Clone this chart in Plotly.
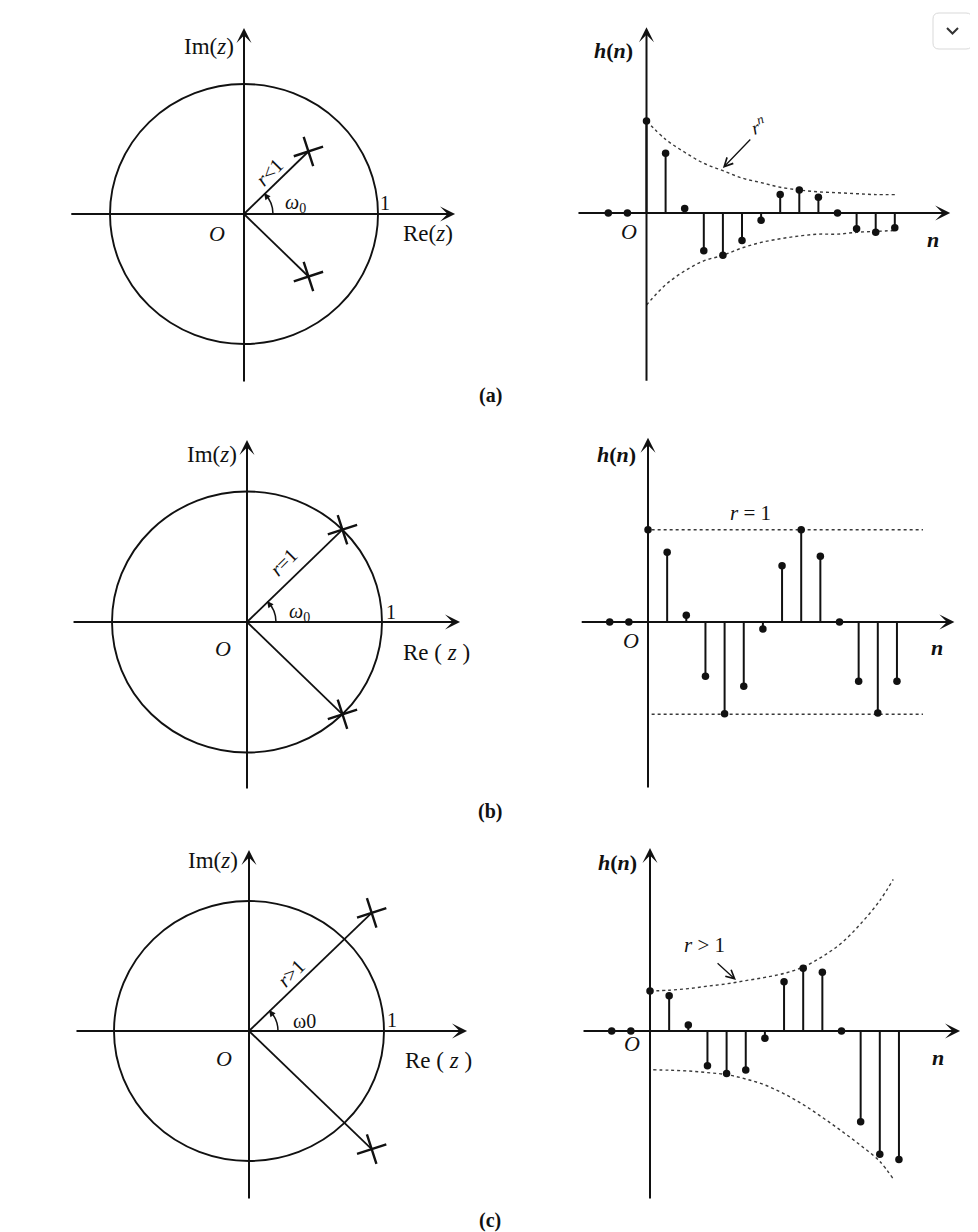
import math
import plotly.graph_objects as go

W, H = 978, 1232          # reference picture size
OFF = 8                   # page body margin of the written html
WF, HF = W - OFF, H - OFF # figure size so that figure pixels line up with the picture
FONT = "Liberation Serif, Times New Roman, serif"
INK = "#111111"

# ---------------- data ----------------
n_vals = [-2, -1, 0, 1, 2, 3, 4, 5, 6, 7, 8, 9, 10, 11, 12, 13]
h_a = [0, 0, 1.0, 0.65, 0.05, -0.41, -0.46, -0.30, -0.08, 0.20, 0.25, 0.17, 0.0, -0.17, -0.21, -0.16]
h_b = [0, 0, 1.0, 0.755, 0.073, -0.588, -0.993, -0.697, -0.076, 0.61, 1.0, 0.712, 0.0, -0.643, -0.986, -0.643]
h_c = [0, 0, 1.0, 0.88, 0.15, -0.87, -1.06, -0.975, -0.18, 1.23, 1.57, 1.47, 0.0, -2.27, -3.08, -3.21]

env_a_n = [0, 1, 2, 3, 4, 5, 6, 7, 8, 9, 10, 11, 12, 13]
env_a_up = [1.0, 0.80, 0.66, 0.54, 0.46, 0.38, 0.33, 0.28, 0.25, 0.23, 0.22, 0.21, 0.20, 0.20]
env_a_lo = [-1.0, -0.78, -0.63, -0.52, -0.46, -0.38, -0.32, -0.28, -0.25, -0.23, -0.23, -0.21, -0.20, -0.19]

env_b_n = [0.19, 14.36]
env_b_up = [1.0, 1.0]
env_b_lo = [-1.0, -1.0]

env_c_up_n = [0, 1, 2, 3, 4, 5, 6, 7, 8, 9, 10, 11, 12, 12.7]
env_c_up = [1.0, 1.02, 1.06, 1.12, 1.18, 1.26, 1.34, 1.44, 1.60, 1.86, 2.20, 2.68, 3.26, 3.79]
env_c_lo_n = [0.17, 1, 2, 3, 4, 5, 6, 7, 8, 9, 10, 11, 12, 12.7]
env_c_lo = [-0.97, -0.98, -1.0, -1.04, -1.09, -1.20, -1.35, -1.57, -1.84, -2.16, -2.50, -2.86, -3.26, -3.70]

pole_r = [0.68, 1.0, 1.285]
omega0_deg = 45
radius_labels = ["<i>r</i>&lt;1", "<i>r</i>=1", "<i>r</i>&gt;1"]
omega_labels = ["<i>ω</i><sub>0</sub>", "<i>ω</i><sub>0</sub>", "ω0"]
panel_tags = ["(a)", "(b)", "(c)"]

fig = go.Figure()
layout_axes = {}
annotations = []
shapes = []


def make_axes(i, box, origin, scale):
    # box / origin are picture pixels; convert to figure fractions (figure starts OFF px in)
    px0, px1, py0, py1 = box
    cx, cy = origin
    sx, sy = scale
    s = "" if i == 1 else str(i)
    layout_axes["xaxis" + s] = dict(domain=[(px0 - OFF) / WF, (px1 - OFF) / WF],
                                    range=[(px0 - cx) / sx, (px1 - cx) / sx],
                                    visible=False, fixedrange=True, anchor="y" + s)
    layout_axes["yaxis" + s] = dict(domain=[1 - (py1 - OFF) / HF, 1 - (py0 - OFF) / HF],
                                    range=[(cy - py1) / sy, (cy - py0) / sy],
                                    visible=False, fixedrange=True, anchor="x" + s)
    return ("x" + s, "y" + s)


def arrow(xr, yr, tail, head, width=2.0, size=1.25, style=3, color=INK):
    annotations.append(dict(xref=xr, yref=yr, axref=xr, ayref=yr, x=head[0], y=head[1], ax=tail[0], ay=tail[1],
                            text="", showarrow=True, arrowhead=style, arrowsize=size, arrowwidth=width,
                            arrowcolor=color, standoff=0, startstandoff=0))


def label(xr, yr, x, y, text, size=20, angle=0, xanchor="center"):
    annotations.append(dict(xref=xr, yref=yr, x=x, y=y, text=text, showarrow=False, textangle=angle,
                            font=dict(family=FONT, size=size, color=INK), xanchor=xanchor, yanchor="middle"))


# ---------------- left: pole-zero plots ----------------
left_cfg = [
    dict(box=(55, 485, 15, 398), origin=(244, 214), scale=(134, 130),
         re=(-1.30, 1.575), im=(-1.30, 1.43),
         lab_im=(-0.26, 1.29), lab_o=(-0.20, -0.15), lab_re=(1.37, -0.15), lab_re_text="Re(<i>z</i>)",
         lab_1=(1.05, 0.085), lab_w=(0.385, 0.08), lab_r=(0.19, 0.32)),
    dict(box=(55, 485, 425, 808), origin=(247, 622), scale=(135, 130.5),
         re=(-1.296, 1.578), im=(-1.287, 1.395),
         lab_im=(-0.26, 1.28), lab_o=(-0.18, -0.20), lab_re=(1.40, -0.23), lab_re_text="Re ( <i>z</i> )",
         lab_1=(1.067, 0.075), lab_w=(0.39, 0.07), lab_r=(0.27, 0.46)),
    dict(box=(55, 485, 835, 1218), origin=(249, 1031), scale=(135, 130),
         re=(-1.289, 1.615), im=(-1.30, 1.392),
         lab_im=(-0.27, 1.31), lab_o=(-0.185, -0.215), lab_re=(1.40, -0.23), lab_re_text="Re ( <i>z</i> )",
         lab_1=(1.06, 0.085), lab_w=(0.41, 0.08), lab_r=(0.31, 0.45)),
]

th = math.radians(omega0_deg)
for k, cfg in enumerate(left_cfg):
    xr, yr = make_axes(2 * k + 1, cfg["box"], cfg["origin"], cfg["scale"])
    arrow(xr, yr, (cfg["re"][0], 0), (cfg["re"][1], 0))
    arrow(xr, yr, (0, cfg["im"][0]), (0, cfg["im"][1]))
    shapes.append(dict(type="circle", xref=xr, yref=yr, x0=-1, x1=1, y0=-1, y1=1,
                       line=dict(color=INK, width=1.9)))
    r = pole_r[k]
    px, py = r * math.cos(th), r * math.sin(th)
    fig.add_trace(go.Scatter(x=[0, px, None, 0, px], y=[0, py, None, 0, -py], mode="lines",
                             line=dict(color=INK, width=1.8), xaxis=xr, yaxis=yr, hoverinfo="skip",
                             showlegend=False, cliponaxis=False))
    fig.add_trace(go.Scatter(x=[px, px], y=[py, -py], mode="markers",
                             marker=dict(symbol="cross-thin", size=22, angle=-18,
                                         line=dict(color=INK, width=2.4)),
                             xaxis=xr, yaxis=yr, hoverinfo="skip", showlegend=False, cliponaxis=False))
    sx, sy = cfg["scale"]
    rx, ry = 29 / sx, 29 / sy
    shapes.append(dict(type="path", xref=xr, yref=yr,
                       path=f"M {rx},0 Q {rx},{ry*0.414} {rx*0.707},{ry*0.707}",
                       line=dict(color=INK, width=1.5)))
    arrow(xr, yr, (rx * 0.80, ry * 0.58), (rx * 0.69, ry * 0.72), width=1.3, size=1.0, style=2)
    label(xr, yr, *cfg["lab_im"], "Im(<i>z</i>)", size=23)
    label(xr, yr, *cfg["lab_o"], "<i>O</i>", size=22)
    label(xr, yr, *cfg["lab_re"], cfg["lab_re_text"], size=23)
    label(xr, yr, *cfg["lab_1"], "1", size=20)
    label(xr, yr, *cfg["lab_w"], omega_labels[k], size=20)
    label(xr, yr, *cfg["lab_r"], radius_labels[k], size=20, angle=-45)

# ---------------- right: impulse responses ----------------
right_cfg = [
    dict(box=(570, 975, 15, 398), origin=(646.5, 213), scale=(19.1, 92), nax=(-3.64, 15.9), hax=(-1.84, 2.02),
         h=h_a, lab_h=(-1.75, 1.77), lab_o=(-0.92, -0.20), lab_n=(15.0, -0.29)),
    dict(box=(570, 975, 425, 808), origin=(648, 622), scale=(19.15, 92.3), nax=(-3.54, 16.0), hax=(-1.81, 1.995),
         h=h_b, lab_h=(-1.62, 1.82), lab_o=(-0.89, -0.20), lab_n=(15.09, -0.28)),
    dict(box=(570, 975, 835, 1218), origin=(650, 1031), scale=(19.15, 40), nax=(-3.55, 16.19), hax=(-4.225, 4.575),
         h=h_c, lab_h=(-1.72, 4.22), lab_o=(-0.94, -0.30), lab_n=(15.04, -0.65)),
]

envelopes = [
    [(env_a_n, env_a_up), (env_a_n, env_a_lo)],
    [(env_b_n, env_b_up), (env_b_n, env_b_lo)],
    [(env_c_up_n, env_c_up), (env_c_lo_n, env_c_lo)],
]

for k, cfg in enumerate(right_cfg):
    xr, yr = make_axes(2 * k + 2, cfg["box"], cfg["origin"], cfg["scale"])
    arrow(xr, yr, (cfg["nax"][0], 0), (cfg["nax"][1], 0))
    arrow(xr, yr, (0, cfg["hax"][0]), (0, cfg["hax"][1]))
    for ex, ey in envelopes[k]:
        fig.add_trace(go.Scatter(x=ex, y=ey, mode="lines",
                                 line=dict(color="#3a3a3a", width=1.4, dash="dot", shape="spline", smoothing=1.0),
                                 xaxis=xr, yaxis=yr, hoverinfo="skip", showlegend=False, cliponaxis=False))
    sxs, sys_ = [], []
    for n, v in zip(n_vals, cfg["h"]):
        if v != 0:
            sxs += [n, n, None]
            sys_ += [0, v, None]
    fig.add_trace(go.Scatter(x=sxs, y=sys_, mode="lines", line=dict(color=INK, width=2.0),
                             xaxis=xr, yaxis=yr, hoverinfo="skip", showlegend=False, cliponaxis=False))
    fig.add_trace(go.Scatter(x=n_vals, y=cfg["h"], mode="markers", marker=dict(color=INK, size=7.5),
                             xaxis=xr, yaxis=yr, hoverinfo="skip", showlegend=False, cliponaxis=False))
    label(xr, yr, *cfg["lab_h"], "<b><i>h</i>(<i>n</i>)</b>", size=22)
    label(xr, yr, *cfg["lab_o"], "<i>O</i>", size=22)
    label(xr, yr, *cfg["lab_n"], "<b><i>n</i></b>", size=22)

# envelope labels
label("x2", "y2", 5.84, 0.96, "<i>r</i><sup><i>n</i></sup>", size=19, angle=-20)
arrow("x2", "y2", (5.51, 0.815), (4.0, 0.49), width=1.3, size=1.3, style=5)
label("x4", "y4", 5.33, 1.18, "<i>r</i> = 1", size=21)
label("x6", "y6", 2.87, 2.15, "<i>r</i> &gt; 1", size=21)
arrow("x6", "y6", (3.45, 1.725), (4.49, 1.275), width=1.3, size=1.3, style=5)

# panel tags
for tag, py in zip(panel_tags, [395, 811, 1220]):
    annotations.append(dict(xref="paper", yref="paper", x=(490 - OFF) / WF, y=1 - (py - OFF) / HF,
                            text="<b>" + tag + "</b>", showarrow=False,
                            font=dict(family=FONT, size=20, color=INK), xanchor="center", yanchor="middle"))


# screenshot's dropdown button (top-right)
def P(x, y):
    return f"{(x - OFF) / WF},{1 - (y - OFF) / HF}"


bx0, bx1, by0, by1, rr = 933, 972, 13, 49, 6
shapes.append(dict(type="path", xref="paper", yref="paper",
                   path=(f"M {P(bx0 + rr, by0)} L {P(bx1 - rr, by0)} Q {P(bx1, by0)} {P(bx1, by0 + rr)} "
                         f"L {P(bx1, by1 - rr)} Q {P(bx1, by1)} {P(bx1 - rr, by1)} L {P(bx0 + rr, by1)} "
                         f"Q {P(bx0, by1)} {P(bx0, by1 - rr)} L {P(bx0, by0 + rr)} Q {P(bx0, by0)} {P(bx0 + rr, by0)} Z"),
                   line=dict(color="#d9d9d9", width=1), fillcolor="white"))
shapes.append(dict(type="path", xref="paper", yref="paper",
                   path=f"M {P(947, 28)} L {P(952.5, 33.5)} L {P(958, 28)}",
                   line=dict(color="#333333", width=2)))

fig.update_layout(width=WF, height=HF, margin=dict(l=0, r=0, t=0, b=0),
                  paper_bgcolor="white", plot_bgcolor="rgba(0,0,0,0)",
                  showlegend=False, annotations=annotations, shapes=shapes, **layout_axes)

fig.write_html("out.html")
